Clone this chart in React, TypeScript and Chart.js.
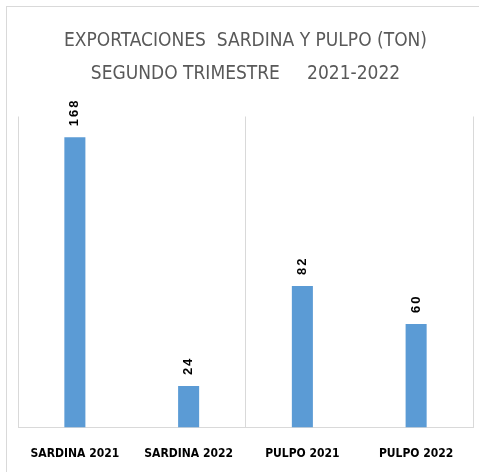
import React, { useEffect, useRef } from "react";
import { Chart, registerables } from "chart.js";

Chart.register(...registerables);

const categories = ["SARDINA 2021", "SARDINA 2022", "PULPO 2021", "PULPO 2022"];
const values = [168, 24, 82, 60];
const titleLines = ["EXPORTACIONES  SARDINA Y PULPO (TON)", "SEGUNDO TRIMESTRE     2021-2022"];

const barLabels = {
  id: "barLabels",
  afterDatasetsDraw(chart: any) {
    const ctx = chart.ctx;
    const meta = chart.getDatasetMeta(0);
    ctx.save();
    ctx.fillStyle = "#000";
    ctx.font = "bold 13px 'Liberation Sans'";
    (ctx as any).letterSpacing = "2px";
    ctx.textAlign = "left";
    ctx.textBaseline = "middle";
    meta.data.forEach((bar: any, i: number) => {
      ctx.save();
      ctx.translate(bar.x, bar.y - 11);
      ctx.rotate(-Math.PI / 2);
      ctx.fillText(String(values[i]), 0, 0);
      ctx.restore();
    });
    ctx.restore();
  },
};

export default function App() {
  const ref = useRef<HTMLCanvasElement>(null);
  useEffect(() => {
    const chart = new Chart(ref.current!, {
      type: "bar",
      data: {
        labels: categories,
        datasets: [
          {
            data: values,
            backgroundColor: "#5b9bd5",
            barPercentage: 0.185,
            categoryPercentage: 1,
          },
        ],
      },
      options: {
        animation: false,
        responsive: false,
        layout: { padding: { left: 11, right: 6, top: 0, bottom: -8 } },
        plugins: {
          legend: { display: false },
          tooltip: { enabled: false },
          title: {
            display: true,
            text: titleLines,
            color: "#595959",
            font: { family: "'DejaVu Sans Condensed'", size: 19, weight: "normal", lineHeight: 1.75 },
            padding: { top: 17, bottom: 26 },
          },
        },
        scales: {
          x: {
            grid: {
              offset: true,
              color: (c: any) => (c.index === 1 || c.index === 3 ? "rgba(0,0,0,0)" : "#d9d9d9"),
              drawTicks: false,
            },
            border: { color: "#d9d9d9" },
            ticks: {
              color: "#000",
              font: { family: "'DejaVu Sans Condensed'", size: 12, weight: "bold" },
              padding: 19,
              maxRotation: 0,
              autoSkip: false,
            },
          },
          y: {
            display: false,
            min: 0,
            max: 180,
          },
        },
      },
      plugins: [barLabels],
    });
    return () => chart.destroy();
  }, []);
  return (
    <div
      style={{
        position: "fixed",
        left: 6,
        top: 6,
        width: 473,
        height: 466,
        borderLeft: "1px solid #d9d9d9",
        borderTop: "1px solid #d9d9d9",
        background: "#fff",
      }}
    >
      <canvas ref={ref} width={472} height={465} style={{ display: "block" }} />
    </div>
  );
}
